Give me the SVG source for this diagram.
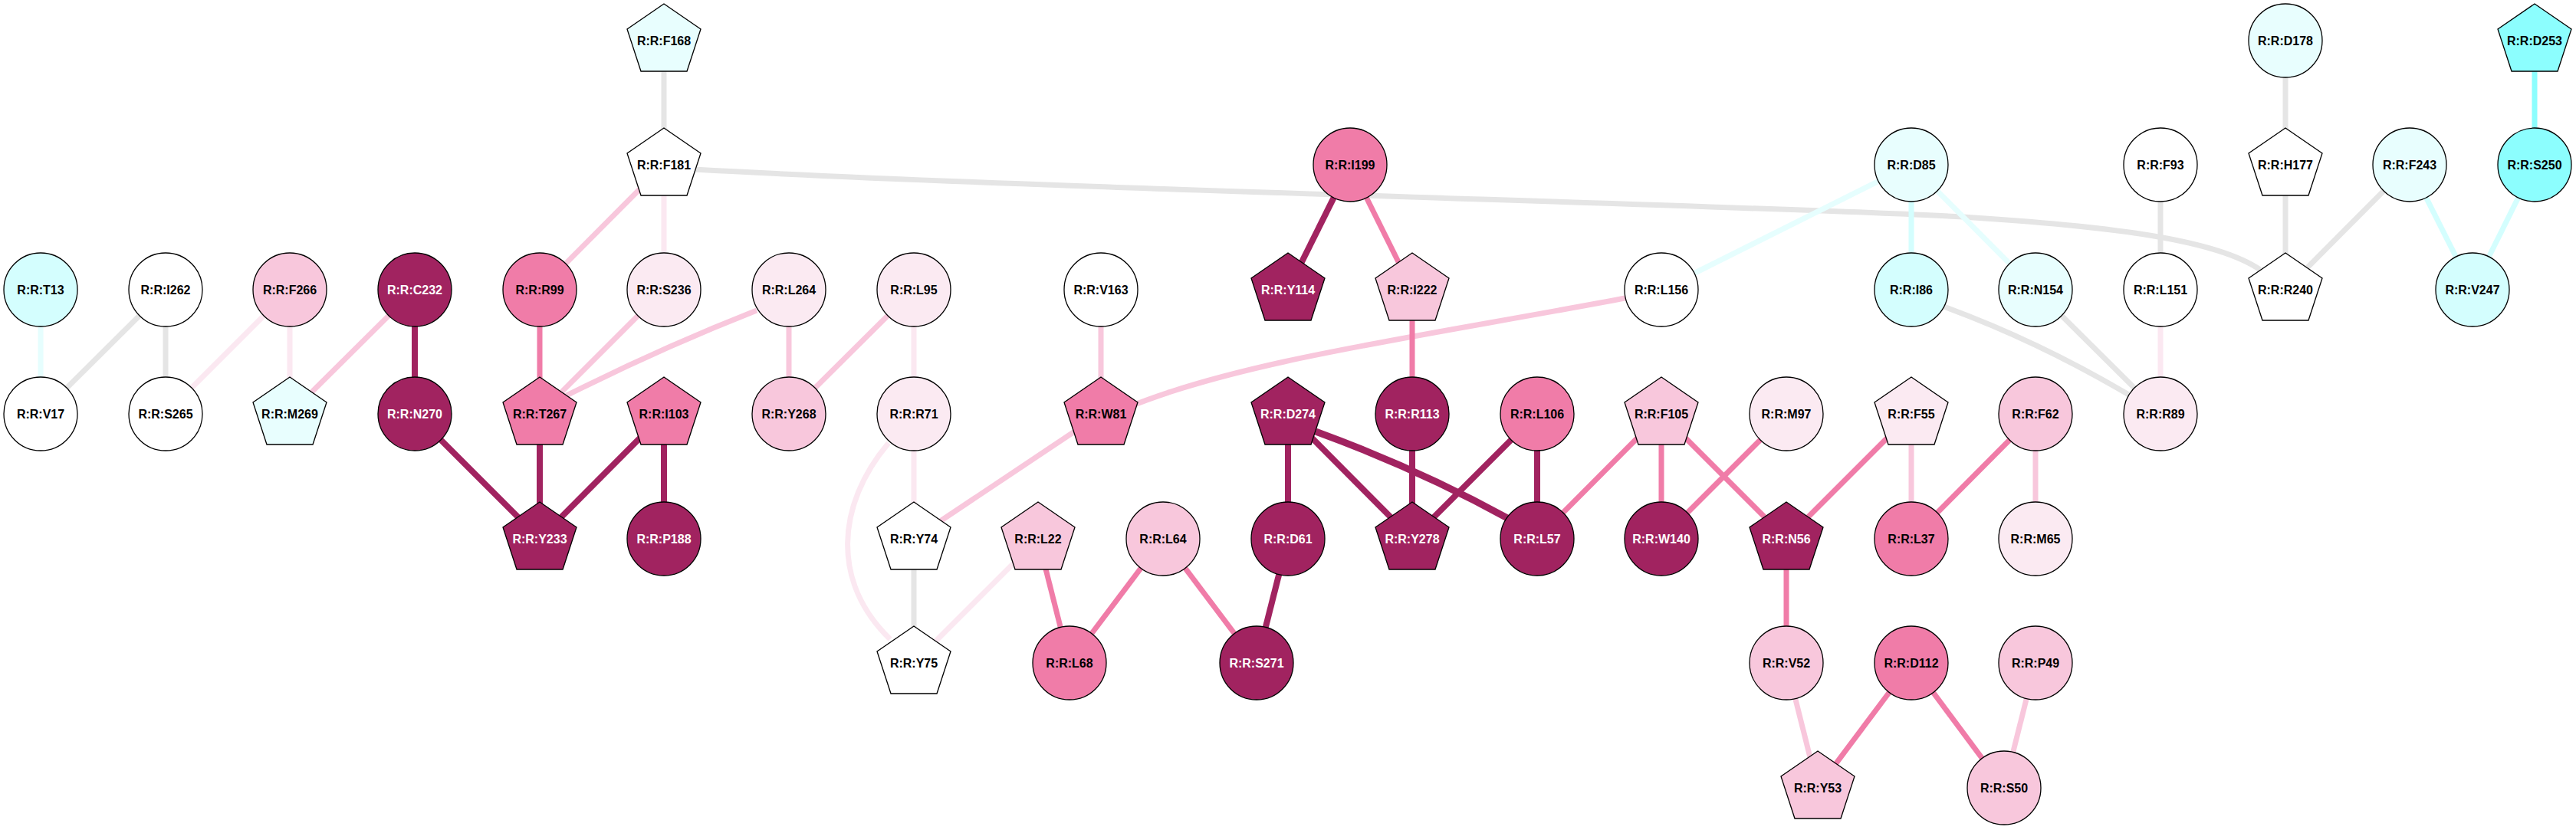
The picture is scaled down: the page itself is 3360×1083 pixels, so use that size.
<svg xmlns="http://www.w3.org/2000/svg" xmlns:xlink="http://www.w3.org/1999/xlink" width="3360" height="1083" viewBox="0 0 3360 1083">
<style>
.e{fill:none;stroke-width:7;stroke-linecap:butt}
.eg{stroke:#e5e5e5}.ed{stroke:#a12360;stroke-width:8}.em{stroke:#f07ca8}.el{stroke:#f8c7dc}.ev{stroke:#fbe8f1}
.ecv{stroke:#e6fefe}.ecl{stroke:#d4fefe}.ec{stroke:#8cfefe}
.n{stroke:#000;stroke-width:1.3}
.fw{fill:#ffffff}.fd{fill:#a12360}.fm{fill:#f07ca8}.fl{fill:#f8c7dc}.fv{fill:#fbeaf2}
.fcv{fill:#e8fefe}.fcl{fill:#d4fefe}.fc{fill:#8cfefe}
text{font-family:"Liberation Sans",Arial,sans-serif;font-size:16px;font-weight:bold;text-anchor:middle;fill:#000}
text.w{fill:#fff}
</style>
<defs>
<polygon id="pent" points="0,-48 48,-15 30,40 -30,40 -48,-15"/>
</defs>
<rect width="3360" height="1083" fill="#fff"/>
<g id="edges">
<line class="e ecv" x1="53" y1="378" x2="53" y2="540"/>
<line class="e eg" x1="216" y1="378" x2="53" y2="540"/>
<line class="e eg" x1="216" y1="378" x2="216" y2="540"/>
<line class="e ev" x1="378" y1="378" x2="216" y2="540"/>
<line class="e ev" x1="378" y1="378" x2="378" y2="540"/>
<line class="e el" x1="541" y1="378" x2="378" y2="540"/>
<line class="e ed" x1="541" y1="378" x2="541" y2="540"/>
<line class="e em" x1="704" y1="378" x2="704" y2="540"/>
<line class="e el" x1="866" y1="215" x2="704" y2="378"/>
<line class="e el" x1="866" y1="378" x2="704" y2="540"/>
<path class="e el" d="M987,405 Q860,455 735,518"/>
<line class="e ed" x1="541" y1="540" x2="704" y2="703"/>
<line class="e ed" x1="704" y1="540" x2="704" y2="703"/>
<line class="e ed" x1="866" y1="540" x2="704" y2="703"/>
<line class="e ed" x1="866" y1="540" x2="866" y2="703"/>
<line class="e eg" x1="866" y1="53" x2="866" y2="215"/>
<line class="e ev" x1="866" y1="215" x2="866" y2="378"/>
<path class="e eg" d="M905,221 C1400,248 2300,268 2560,283 C2750,295 2890,312 2948,352"/>
<line class="e el" x1="1029" y1="378" x2="1029" y2="540"/>
<line class="e el" x1="1192" y1="378" x2="1029" y2="540"/>
<line class="e ev" x1="1192" y1="378" x2="1192" y2="540"/>
<line class="e ev" x1="1192" y1="540" x2="1192" y2="703"/>
<path class="e ev" d="M1159,578 C1090,660 1085,760 1161,834"/>
<line class="e eg" x1="1192" y1="703" x2="1192" y2="865"/>
<line class="e el" x1="1436" y1="540" x2="1192" y2="703"/>
<line class="e el" x1="1436" y1="378" x2="1436" y2="540"/>
<path class="e el" d="M2125,388 C1850,440 1620,470 1470,532"/>
<line class="e ev" x1="1354" y1="703" x2="1192" y2="865"/>
<line class="e em" x1="1354" y1="703" x2="1395" y2="865"/>
<line class="e em" x1="1517" y1="703" x2="1395" y2="865"/>
<line class="e em" x1="1517" y1="703" x2="1639" y2="865"/>
<line class="e ed" x1="1680" y1="703" x2="1639" y2="865"/>
<line class="e ed" x1="1680" y1="540" x2="1680" y2="703"/>
<line class="e ed" x1="1680" y1="540" x2="1842" y2="703"/>
<path class="e ed" style="stroke-width:9" d="M1716,563 Q1850,612 1968,677"/>
<line class="e ed" x1="1761" y1="215" x2="1680" y2="378"/>
<line class="e em" x1="1761" y1="215" x2="1842" y2="378"/>
<line class="e em" x1="1842" y1="378" x2="1842" y2="540"/>
<line class="e ed" x1="1842" y1="540" x2="1842" y2="703"/>
<line class="e ed" x1="2005" y1="540" x2="1842" y2="703"/>
<line class="e ed" x1="2005" y1="540" x2="2005" y2="703"/>
<line class="e em" x1="2167" y1="540" x2="2005" y2="703"/>
<line class="e em" x1="2167" y1="540" x2="2167" y2="703"/>
<line class="e em" x1="2167" y1="540" x2="2330" y2="703"/>
<line class="e em" x1="2330" y1="540" x2="2167" y2="703"/>
<line class="e em" x1="2493" y1="540" x2="2330" y2="703"/>
<line class="e el" x1="2493" y1="540" x2="2493" y2="703"/>
<line class="e em" x1="2655" y1="540" x2="2493" y2="703"/>
<line class="e el" x1="2655" y1="540" x2="2655" y2="703"/>
<line class="e em" x1="2330" y1="703" x2="2330" y2="865"/>
<line class="e el" x1="2330" y1="865" x2="2371" y2="1028"/>
<line class="e em" x1="2493" y1="865" x2="2371" y2="1028"/>
<line class="e em" x1="2493" y1="865" x2="2614" y2="1028"/>
<line class="e el" x1="2655" y1="865" x2="2614" y2="1028"/>
<line class="e ecv" x1="2493" y1="215" x2="2167" y2="378"/>
<line class="e ecl" x1="2493" y1="215" x2="2493" y2="378"/>
<line class="e ecv" x1="2493" y1="215" x2="2655" y2="378"/>
<path class="e eg" d="M2530,398 Q2660,445 2785,520"/>
<line class="e eg" x1="2655" y1="378" x2="2818" y2="540"/>
<line class="e eg" x1="2818" y1="215" x2="2818" y2="378"/>
<line class="e ev" x1="2818" y1="378" x2="2818" y2="540"/>
<line class="e eg" x1="2981" y1="53" x2="2981" y2="215"/>
<line class="e eg" x1="2981" y1="215" x2="2981" y2="378"/>
<line class="e eg" x1="3143" y1="215" x2="2981" y2="378"/>
<line class="e ecl" x1="3143" y1="215" x2="3225" y2="378"/>
<line class="e ecl" x1="3306" y1="215" x2="3225" y2="378"/>
<line class="e ec" x1="3306" y1="53" x2="3306" y2="215"/>
</g>
<g id="nodes">
<g id="F168"><use xlink:href="#pent" x="866" y="53" class="n fcv"/><text x="866" y="59">R:R:F168</text></g>
<g id="D178"><circle cx="2981" cy="53" r="48" class="n fcv"/><text x="2981" y="59">R:R:D178</text></g>
<g id="D253"><use xlink:href="#pent" x="3306" y="53" class="n fc"/><text x="3306" y="59">R:R:D253</text></g>
<g id="F181"><use xlink:href="#pent" x="866" y="215" class="n fw"/><text x="866" y="221">R:R:F181</text></g>
<g id="I199"><circle cx="1761" cy="215" r="48" class="n fm"/><text x="1761" y="221">R:R:I199</text></g>
<g id="D85"><circle cx="2493" cy="215" r="48" class="n fcv"/><text x="2493" y="221">R:R:D85</text></g>
<g id="F93"><circle cx="2818" cy="215" r="48" class="n fw"/><text x="2818" y="221">R:R:F93</text></g>
<g id="H177"><use xlink:href="#pent" x="2981" y="215" class="n fw"/><text x="2981" y="221">R:R:H177</text></g>
<g id="F243"><circle cx="3143" cy="215" r="48" class="n fcv"/><text x="3143" y="221">R:R:F243</text></g>
<g id="S250"><circle cx="3306" cy="215" r="48" class="n fc"/><text x="3306" y="221">R:R:S250</text></g>
<g id="T13"><circle cx="53" cy="378" r="48" class="n fcl"/><text x="53" y="384">R:R:T13</text></g>
<g id="I262"><circle cx="216" cy="378" r="48" class="n fw"/><text x="216" y="384">R:R:I262</text></g>
<g id="F266"><circle cx="378" cy="378" r="48" class="n fl"/><text x="378" y="384">R:R:F266</text></g>
<g id="C232"><circle cx="541" cy="378" r="48" class="n fd"/><text class="w" x="541" y="384">R:R:C232</text></g>
<g id="R99"><circle cx="704" cy="378" r="48" class="n fm"/><text x="704" y="384">R:R:R99</text></g>
<g id="S236"><circle cx="866" cy="378" r="48" class="n fv"/><text x="866" y="384">R:R:S236</text></g>
<g id="L264"><circle cx="1029" cy="378" r="48" class="n fv"/><text x="1029" y="384">R:R:L264</text></g>
<g id="L95"><circle cx="1192" cy="378" r="48" class="n fv"/><text x="1192" y="384">R:R:L95</text></g>
<g id="V163"><circle cx="1436" cy="378" r="48" class="n fw"/><text x="1436" y="384">R:R:V163</text></g>
<g id="Y114"><use xlink:href="#pent" x="1680" y="378" class="n fd"/><text class="w" x="1680" y="384">R:R:Y114</text></g>
<g id="I222"><use xlink:href="#pent" x="1842" y="378" class="n fl"/><text x="1842" y="384">R:R:I222</text></g>
<g id="L156"><circle cx="2167" cy="378" r="48" class="n fw"/><text x="2167" y="384">R:R:L156</text></g>
<g id="I86"><circle cx="2493" cy="378" r="48" class="n fcl"/><text x="2493" y="384">R:R:I86</text></g>
<g id="N154"><circle cx="2655" cy="378" r="48" class="n fcv"/><text x="2655" y="384">R:R:N154</text></g>
<g id="L151"><circle cx="2818" cy="378" r="48" class="n fw"/><text x="2818" y="384">R:R:L151</text></g>
<g id="R240"><use xlink:href="#pent" x="2981" y="378" class="n fw"/><text x="2981" y="384">R:R:R240</text></g>
<g id="V247"><circle cx="3225" cy="378" r="48" class="n fcl"/><text x="3225" y="384">R:R:V247</text></g>
<g id="V17"><circle cx="53" cy="540" r="48" class="n fw"/><text x="53" y="546">R:R:V17</text></g>
<g id="S265"><circle cx="216" cy="540" r="48" class="n fw"/><text x="216" y="546">R:R:S265</text></g>
<g id="M269"><use xlink:href="#pent" x="378" y="540" class="n fcv"/><text x="378" y="546">R:R:M269</text></g>
<g id="N270"><circle cx="541" cy="540" r="48" class="n fd"/><text class="w" x="541" y="546">R:R:N270</text></g>
<g id="T267"><use xlink:href="#pent" x="704" y="540" class="n fm"/><text x="704" y="546">R:R:T267</text></g>
<g id="I103"><use xlink:href="#pent" x="866" y="540" class="n fm"/><text x="866" y="546">R:R:I103</text></g>
<g id="Y268"><circle cx="1029" cy="540" r="48" class="n fl"/><text x="1029" y="546">R:R:Y268</text></g>
<g id="R71"><circle cx="1192" cy="540" r="48" class="n fv"/><text x="1192" y="546">R:R:R71</text></g>
<g id="W81"><use xlink:href="#pent" x="1436" y="540" class="n fm"/><text x="1436" y="546">R:R:W81</text></g>
<g id="D274"><use xlink:href="#pent" x="1680" y="540" class="n fd"/><text class="w" x="1680" y="546">R:R:D274</text></g>
<g id="R113"><circle cx="1842" cy="540" r="48" class="n fd"/><text class="w" x="1842" y="546">R:R:R113</text></g>
<g id="L106"><circle cx="2005" cy="540" r="48" class="n fm"/><text x="2005" y="546">R:R:L106</text></g>
<g id="F105"><use xlink:href="#pent" x="2167" y="540" class="n fl"/><text x="2167" y="546">R:R:F105</text></g>
<g id="M97"><circle cx="2330" cy="540" r="48" class="n fv"/><text x="2330" y="546">R:R:M97</text></g>
<g id="F55"><use xlink:href="#pent" x="2493" y="540" class="n fv"/><text x="2493" y="546">R:R:F55</text></g>
<g id="F62"><circle cx="2655" cy="540" r="48" class="n fl"/><text x="2655" y="546">R:R:F62</text></g>
<g id="R89"><circle cx="2818" cy="540" r="48" class="n fv"/><text x="2818" y="546">R:R:R89</text></g>
<g id="Y233"><use xlink:href="#pent" x="704" y="703" class="n fd"/><text class="w" x="704" y="709">R:R:Y233</text></g>
<g id="P188"><circle cx="866" cy="703" r="48" class="n fd"/><text class="w" x="866" y="709">R:R:P188</text></g>
<g id="Y74"><use xlink:href="#pent" x="1192" y="703" class="n fw"/><text x="1192" y="709">R:R:Y74</text></g>
<g id="L22"><use xlink:href="#pent" x="1354" y="703" class="n fl"/><text x="1354" y="709">R:R:L22</text></g>
<g id="L64"><circle cx="1517" cy="703" r="48" class="n fl"/><text x="1517" y="709">R:R:L64</text></g>
<g id="D61"><circle cx="1680" cy="703" r="48" class="n fd"/><text class="w" x="1680" y="709">R:R:D61</text></g>
<g id="Y278"><use xlink:href="#pent" x="1842" y="703" class="n fd"/><text class="w" x="1842" y="709">R:R:Y278</text></g>
<g id="L57"><circle cx="2005" cy="703" r="48" class="n fd"/><text class="w" x="2005" y="709">R:R:L57</text></g>
<g id="W140"><circle cx="2167" cy="703" r="48" class="n fd"/><text class="w" x="2167" y="709">R:R:W140</text></g>
<g id="N56"><use xlink:href="#pent" x="2330" y="703" class="n fd"/><text class="w" x="2330" y="709">R:R:N56</text></g>
<g id="L37"><circle cx="2493" cy="703" r="48" class="n fm"/><text x="2493" y="709">R:R:L37</text></g>
<g id="M65"><circle cx="2655" cy="703" r="48" class="n fv"/><text x="2655" y="709">R:R:M65</text></g>
<g id="Y75"><use xlink:href="#pent" x="1192" y="865" class="n fw"/><text x="1192" y="871">R:R:Y75</text></g>
<g id="L68"><circle cx="1395" cy="865" r="48" class="n fm"/><text x="1395" y="871">R:R:L68</text></g>
<g id="S271"><circle cx="1639" cy="865" r="48" class="n fd"/><text class="w" x="1639" y="871">R:R:S271</text></g>
<g id="V52"><circle cx="2330" cy="865" r="48" class="n fl"/><text x="2330" y="871">R:R:V52</text></g>
<g id="D112"><circle cx="2493" cy="865" r="48" class="n fm"/><text x="2493" y="871">R:R:D112</text></g>
<g id="P49"><circle cx="2655" cy="865" r="48" class="n fl"/><text x="2655" y="871">R:R:P49</text></g>
<g id="Y53"><use xlink:href="#pent" x="2371" y="1028" class="n fl"/><text x="2371" y="1034">R:R:Y53</text></g>
<g id="S50"><circle cx="2614" cy="1028" r="48" class="n fl"/><text x="2614" y="1034">R:R:S50</text></g>
</g>
</svg>
